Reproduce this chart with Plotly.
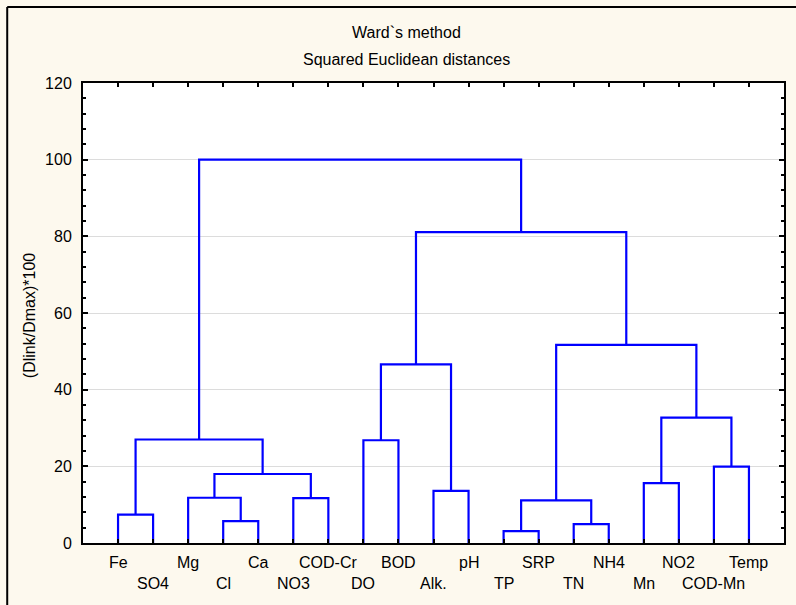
import plotly.graph_objects as go

# ---------------- data ----------------
leaf_labels = ["Fe", "SO4", "Mg", "Cl", "Ca", "NO3", "COD-Cr", "DO", "BOD", "Alk.",
               "pH", "TP", "SRP", "TN", "NH4", "Mn", "NO2", "COD-Mn", "Temp"]
# merges: node ids 0..18 are leaves, 19.. are merges in this order
merge_left = [11, 13, 3, 0, 19, 5, 2, 9, 15, 25, 17, 7, 22, 27, 30, 23, 33, 31]
merge_right = [12, 14, 4, 1, 20, 6, 21, 10, 16, 24, 18, 8, 28, 29, 26, 32, 34, 35]
merge_height = [3.1, 4.9, 5.7, 7.4, 11.1, 11.7, 11.8, 13.6, 15.6, 18.0, 19.9, 26.8,
                27.0, 32.7, 46.6, 51.7, 81.1, 100.0]

y_ticks = [0, 20, 40, 60, 80, 100, 120]
title_1 = "Ward`s method"
title_2 = "Squared Euclidean distances"
y_title = "(Dlink/Dmax)*100"

# ---------------- geometry from data ----------------
n = len(leaf_labels)
node_x = [i + 1 for i in range(n)]
node_h = [0.0] * n
xs, ys = [], []
for a, b, h in zip(merge_left, merge_right, merge_height):
    xa, xb = node_x[a], node_x[b]
    xs += [xa, xa, xb, xb, None]
    ys += [node_h[a], h, h, node_h[b], None]
    node_x.append((xa + xb) / 2)
    node_h.append(h)

FONT = "Liberation Sans, Arial, sans-serif"
BG = "#fdf9ee"

fig = go.Figure()
fig.add_trace(go.Scatter(x=xs, y=ys, mode="lines",
                         line=dict(color="#0000ff", width=2.2),
                         hoverinfo="skip", showlegend=False))

L, R, T, B = 83, 10, 83, 62
W, H = 796, 605
pw, ph = W - L - R, H - T - B

def px2x(px):
    return (px - L) / pw

def py2y(py):
    return (H - B - py) / ph

annotations = []
for i, lab in enumerate(leaf_labels):
    row_y = 562 if i % 2 == 0 else 583
    annotations.append(dict(x=i + 1, y=py2y(row_y), xref="x", yref="paper",
                            text=lab, showarrow=False, xanchor="center", yanchor="middle",
                            font=dict(family=FONT, size=16, color="#000")))
annotations.append(dict(x=px2x(407), y=py2y(33), xref="paper", yref="paper",
                        text=title_1, showarrow=False, xanchor="center", yanchor="middle",
                        font=dict(family=FONT, size=16, color="#000")))
annotations.append(dict(x=px2x(407), y=py2y(59), xref="paper", yref="paper",
                        text=title_2, showarrow=False, xanchor="center", yanchor="middle",
                        font=dict(family=FONT, size=16, color="#000")))
annotations.append(dict(x=px2x(29), y=py2y(316), xref="paper", yref="paper",
                        text=y_title, showarrow=False, textangle=-90,
                        xanchor="center", yanchor="middle",
                        font=dict(family=FONT, size=16, color="#000")))

fig.update_layout(
    width=W, height=H,
    margin=dict(l=L, r=R, t=T, b=B, pad=0),
    paper_bgcolor=BG, plot_bgcolor="#ffffff",
    annotations=annotations,
    shapes=[
        dict(type="line", xref="paper", yref="paper", x0=px2x(7), x1=px2x(800),
             y0=py2y(7), y1=py2y(7), line=dict(color="#000", width=2)),
        dict(type="line", xref="paper", yref="paper", x0=px2x(7), x1=px2x(7),
             y0=py2y(7), y1=py2y(610), line=dict(color="#000", width=2)),
    ],
)
fig.update_xaxes(range=[0, 20], tickmode="array", tickvals=list(range(1, n + 1)),
                 showticklabels=False, ticks="inside", ticklen=4, tickwidth=2,
                 tickcolor="#000", showgrid=False, zeroline=False,
                 showline=True, linecolor="#000", linewidth=2, mirror="allticks")
fig.update_yaxes(range=[0, 120], tickmode="array", tickvals=y_ticks,
                 ticks="inside", ticklen=5, tickwidth=2, tickcolor="#000",
                 ticklabelstandoff=6,
                 tickfont=dict(family=FONT, size=16, color="#000"),
                 showgrid=True, gridcolor="#dcdcdc", gridwidth=1, zeroline=False,
                 showline=True, linecolor="#000", linewidth=2, mirror="allticks",
                 minor=dict(dtick=4, ticks="inside", ticklen=3, tickwidth=2,
                            tickcolor="#000", showgrid=False))

fig.write_html("out.html")
